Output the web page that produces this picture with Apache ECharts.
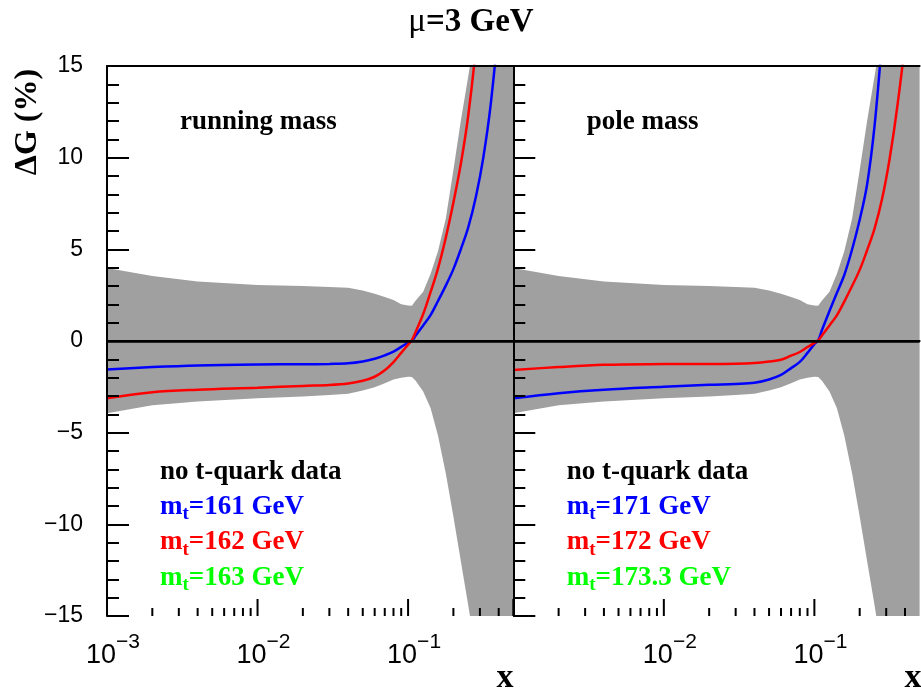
<!DOCTYPE html>
<html><head><meta charset="utf-8">
<script src="https://cdn.jsdelivr.net/npm/echarts@6/dist/echarts.min.js"></script>
<style>html,body{margin:0;padding:0;background:#fff}#c{width:921px;height:689px}</style>
</head><body><div id="c"></div>
<script>
// ---- data ----
const xValues   = [0.001,0.002,0.004,0.01,0.02,0.03,0.04,0.05,0.06,0.07,0.08,0.09,0.1,0.106,0.112,0.126,0.141,0.158,0.178,0.2,0.224,0.251,0.282,0.316,0.355,0.4,0.5];
const bandUpper = [3.98,3.55,3.25,3.05,3.0,2.95,2.9,2.75,2.58,2.4,2.24,2.0,1.93,1.92,2.2,2.68,3.66,4.89,6.67,9.33,12.0,14.44,17,20,23,27,35];
const bandLower = [-3.94,-3.5,-3.3,-3.12,-3.03,-2.95,-2.88,-2.7,-2.52,-2.3,-2.1,-2.0,-1.95,-1.97,-2.15,-2.75,-3.66,-5.16,-7.21,-9.57,-12.0,-14.42,-17,-20,-23,-27,-35];
const running161 = [-1.55,-1.42,-1.33,-1.28,-1.27,-1.25,-1.22,-1.12,-0.97,-0.78,-0.58,-0.32,-0.09,0.0,0.28,0.85,1.41,2.18,3.02,3.92,5.0,6.2,7.85,10.0,13.0,17.5,30];
const running162 = [-3.13,-2.8,-2.66,-2.55,-2.45,-2.4,-2.32,-2.17,-1.95,-1.6,-1.15,-0.65,-0.2,0.05,0.48,1.47,2.66,3.95,5.63,7.55,9.65,12.3,16,21,27,34,50];
const pole171 = [-3.13,-2.85,-2.66,-2.5,-2.39,-2.34,-2.28,-2.1,-1.85,-1.48,-1.14,-0.65,-0.17,0.03,0.57,1.64,2.62,3.6,4.99,6.61,8.54,11.73,16.5,22,28,35,50];
const pole172 = [-1.58,-1.42,-1.3,-1.26,-1.25,-1.24,-1.2,-1.12,-1.02,-0.8,-0.6,-0.33,-0.1,0.03,0.29,0.85,1.4,2.15,3.0,3.88,4.95,6.13,7.77,9.93,12.75,16.5,30];
const xTickValues = [0.001,0.002,0.003,0.004,0.005,0.006,0.007,0.008,0.009,0.01,0.02,0.03,0.04,0.05,0.06,0.07,0.08,0.09,0.1,0.2,0.3,0.4];
const xMin = 0.001, xMax = 0.5, yMin = -15, yMax = 15, yStep = 5;
const panelTitles = ['running mass', 'pole mass'];
const legendHeader = 'no t-quark data';
const legendLeft = ['161', '162', '163'];
const legendRight = ['171', '172', '173.3'];
const lineColors = ['#0000ff', '#ff0000', '#00ff00'];

// ---- chart ----
const chart = echarts.init(document.getElementById('c'), null, {renderer: 'canvas'});
const MINUS = '\u2212';
const isPow10 = v => Math.abs(Math.log10(v) - Math.round(Math.log10(v))) < 1e-6;
const grids = [
  {left: 107, top: 66, width: 406.3, height: 550},
  {left: 513.3, top: 66, width: 406.3, height: 550}
];
const sans = 'Liberation Sans', serif = 'Liberation Serif';

function xLabelFmt(panel) {
  return function (v) {
    if (!isPow10(v)) return '';
    if (panel === 1 && Math.abs(v - xMin) < 1e-9) return '';
    const e = Math.round(Math.log10(v));
    return '{b|10}{s|' + (e < 0 ? MINUS + (-e) : e) + '}';
  };
}
const xAxes = [], yAxes = [], series = [];
[0, 1].forEach(i => {
  xAxes.push({
    type: 'log', logBase: 10, gridIndex: i, min: xMin, max: xMax, z: 10,
    axisLine: {show: true, lineStyle: {color: '#000', width: 2}},
    axisTick: {show: false}, minorTick: {show: false}, splitLine: {show: false},
    axisLabel: {
      show: true, margin: 25, formatter: xLabelFmt(i), padding: [0, 0, 0, 12],
      showMaxLabel: false,
      rich: {
        b: {fontSize: 27, fontFamily: sans, color: '#000', lineHeight: 30},
        s: {fontSize: 21, fontFamily: sans, color: '#000', lineHeight: 20, padding: [0, 0, 28, 0]}
      }
    }
  });
  xAxes.push({
    type: 'log', logBase: 10, gridIndex: i, min: xMin, max: xMax, position: 'top', z: 10,
    axisLine: {show: true, lineStyle: {color: '#000', width: 2}},
    axisTick: {show: false}, axisLabel: {show: false}, splitLine: {show: false}
  });
  yAxes.push({
    type: 'value', gridIndex: i, min: yMin, max: yMax, interval: yStep, z: 10,
    axisLine: {show: true, lineStyle: {color: '#000', width: 2}},
    axisTick: {show: true, inside: true, length: 22, lineStyle: {color: '#000', width: 2}},
    minorTick: {show: true, splitNumber: 5, length: 12, lineStyle: {color: '#000', width: 2}},
    splitLine: {show: false},
    axisLabel: {
      show: i === 0, margin: 24, fontSize: 23, fontFamily: sans, color: '#000',
      formatter: v => (v < 0 ? MINUS + (-v) : '' + v)
    }
  });
  const xi = i * 2;
  // grey band: area under the upper edge, then white area under the lower edge
  series.push({
    type: 'line', xAxisIndex: xi, yAxisIndex: i,
    data: xValues.map((x, k) => [x, bandUpper[k]]), symbol: 'none', showSymbol: false,
    lineStyle: {opacity: 0, width: 0}, areaStyle: {color: '#a0a0a0', opacity: 1, origin: 'start'},
    silent: true, z: 2
  });
  series.push({
    type: 'line', xAxisIndex: xi, yAxisIndex: i,
    data: xValues.map((x, k) => [x, bandLower[k]]), symbol: 'none', showSymbol: false,
    lineStyle: {opacity: 0, width: 0}, areaStyle: {color: '#ffffff', opacity: 1, origin: 'start'},
    silent: true, z: 2.1
  });
  series.push({
    type: 'line', xAxisIndex: xi, yAxisIndex: i, data: [], silent: true, z: 2.5,
    markLine: {
      silent: true, symbol: ['none', 'none'], label: {show: false}, animation: false,
      lineStyle: {color: '#000', width: 2.5, type: 'solid'},
      data: [{yAxis: 0}]
    }
  });
  const curves = i === 0 ? [running161, running162] : [pole171, pole172];
  curves.forEach((arr, j) => {
    series.push({
      type: 'line', xAxisIndex: xi, yAxisIndex: i,
      data: xValues.map((x, k) => [x, arr[k]]), symbol: 'none', showSymbol: false,
      smooth: 0.35, lineStyle: {color: lineColors[j], width: 2.5}, silent: true, z: 3
    });
  });
  series.push({
    type: 'custom', xAxisIndex: xi, yAxisIndex: i, z: 11, silent: true,
    data: xTickValues.map(v => [v, 0]),
    renderItem: function (params, api) {
      const v = api.value(0);
      const px = api.coord([v, 0])[0];
      const cs = params.coordSys;
      const bottom = cs.y + cs.height;
      const len = isPow10(v) ? 17 : 8;
      return {type: 'line', shape: {x1: px, y1: bottom, x2: px, y2: bottom - len},
              style: {stroke: '#000', lineWidth: 2}};
    }
  });
});

function txt(x, y, text, opts) {
  return {
    type: 'text', x: x, y: y, silent: true, z: 20,
    style: Object.assign({
      text: text, fill: '#000', align: 'left', textAlign: 'left',
      verticalAlign: 'middle', textVerticalAlign: 'middle',
      fontFamily: serif, fontWeight: 'bold', fontSize: 27
    }, opts || {})
  };
}
function legendLine(x, y, val, color) {
  return txt(x, y, '{m|m}{s|t}{m|=' + val + ' GeV}', {
    fill: color,
    rich: {
      m: {fontSize: 27, fontFamily: serif, fontWeight: 'bold', fill: color, lineHeight: 34},
      s: {fontSize: 19, fontFamily: serif, fontWeight: 'bold', fill: color, lineHeight: 14, verticalAlign: 'bottom'}
    }
  });
}
const graphics = [];
graphics.push(txt(471, 22, '{u|μ}{t|=3 GeV}', {
  align: 'center', textAlign: 'center',
  rich: {
    u: {fontSize: 33, fontFamily: serif, fontWeight: 'normal', fill: '#000', lineHeight: 36},
    t: {fontSize: 33, fontFamily: serif, fontWeight: 'bold', fill: '#000', lineHeight: 36}
  }
}));
const yName = txt(28, 122, 'ΔG (%)', {align: 'center', textAlign: 'center', fontSize: 32});
yName.rotation = Math.PI / 2;
graphics.push(yName);
graphics.push(txt(180, 122, panelTitles[0]));
graphics.push(txt(586.7, 122, panelTitles[1]));
[[160, legendLeft], [566.7, legendRight]].forEach(([lx, vals]) => {
  graphics.push(txt(lx, 472, legendHeader));
  vals.forEach((v, j) => graphics.push(legendLine(lx, 507 + j * 35.5, v, lineColors[j])));
});
graphics.push(txt(505, 678, 'x', {align: 'center', textAlign: 'center', fontSize: 34}));
graphics.push(txt(913, 678, 'x', {align: 'center', textAlign: 'center', fontSize: 34}));

chart.setOption({
  animation: false,
  backgroundColor: '#fff',
  grid: grids,
  xAxis: xAxes,
  yAxis: yAxes,
  series: series,
  graphic: {elements: graphics}
});
</script>
</body></html>
